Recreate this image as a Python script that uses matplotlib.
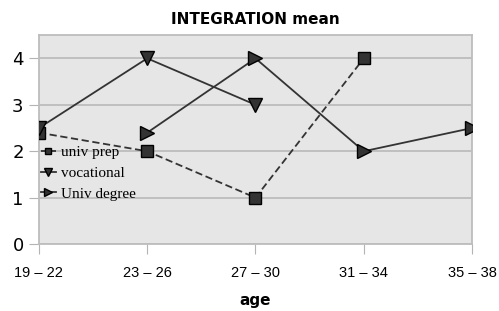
import numpy as np
import matplotlib
matplotlib.use("Agg")
import matplotlib.pyplot as plt

ages = ["19 – 22", "23 – 26", "27 – 30", "31 – 34", "35 – 38"]
univ_prep = [2.4, 2.0, 1.0, 4.0, np.nan]
vocational = [2.5, 4.0, 3.0, np.nan, np.nan]
univ_degree = [np.nan, 2.4, 4.0, 2.0, 2.5]

x = np.arange(len(ages))

fig = plt.figure(figsize=(4.99, 3.11), dpi=100)
ax = fig.add_axes([0.078, 0.215, 0.868, 0.672])
ax.set_facecolor("#e6e6e6")

ax.plot(x, univ_prep, ls=(0, (4, 2)), color="#333333", lw=1.3,
        marker="s", ms=8, mfc="#333333", mec="black", label="univ prep", zorder=3)
ax.plot(x, vocational, ls="-", color="#333333", lw=1.3,
        marker="v", ms=10.5, mfc="#333333", mec="black", label="vocational", zorder=3)
ax.plot(x, univ_degree, ls="-", color="#333333", lw=1.3,
        marker=">", ms=10.5, mfc="#333333", mec="black", label="Univ degree", zorder=3)

ax.set_xlim(0, 4)
ax.set_ylim(0, 4.5)
ax.set_xticks(x)
ax.set_xticklabels(ages, fontsize=10.5, family="Liberation Sans")
ax.set_yticks(range(5))
ax.tick_params(axis="y", labelsize=13, length=7, color="#b4b4b4", pad=4)
ax.tick_params(axis="x", length=7, color="#b4b4b4", pad=9)
ax.yaxis.grid(True, color="#bdbdbd", lw=1.3)
ax.set_axisbelow(True)
for s in ax.spines.values():
    s.set_color("#bdbdbd")
    s.set_linewidth(1.3)

ax.set_title("INTEGRATION mean", fontsize=11, fontweight="bold", pad=8)
ax.set_xlabel("age", fontsize=11, fontweight="bold", labelpad=9)

leg = ax.legend(loc="upper left", bbox_to_anchor=(-0.01, 0.5), frameon=False,
                prop={"family": "Liberation Serif", "size": 11},
                handlelength=1.0, handletextpad=0.3, labelspacing=0.45,
                markerscale=0.6, borderaxespad=0)

fig.savefig("out.png", dpi=100)
